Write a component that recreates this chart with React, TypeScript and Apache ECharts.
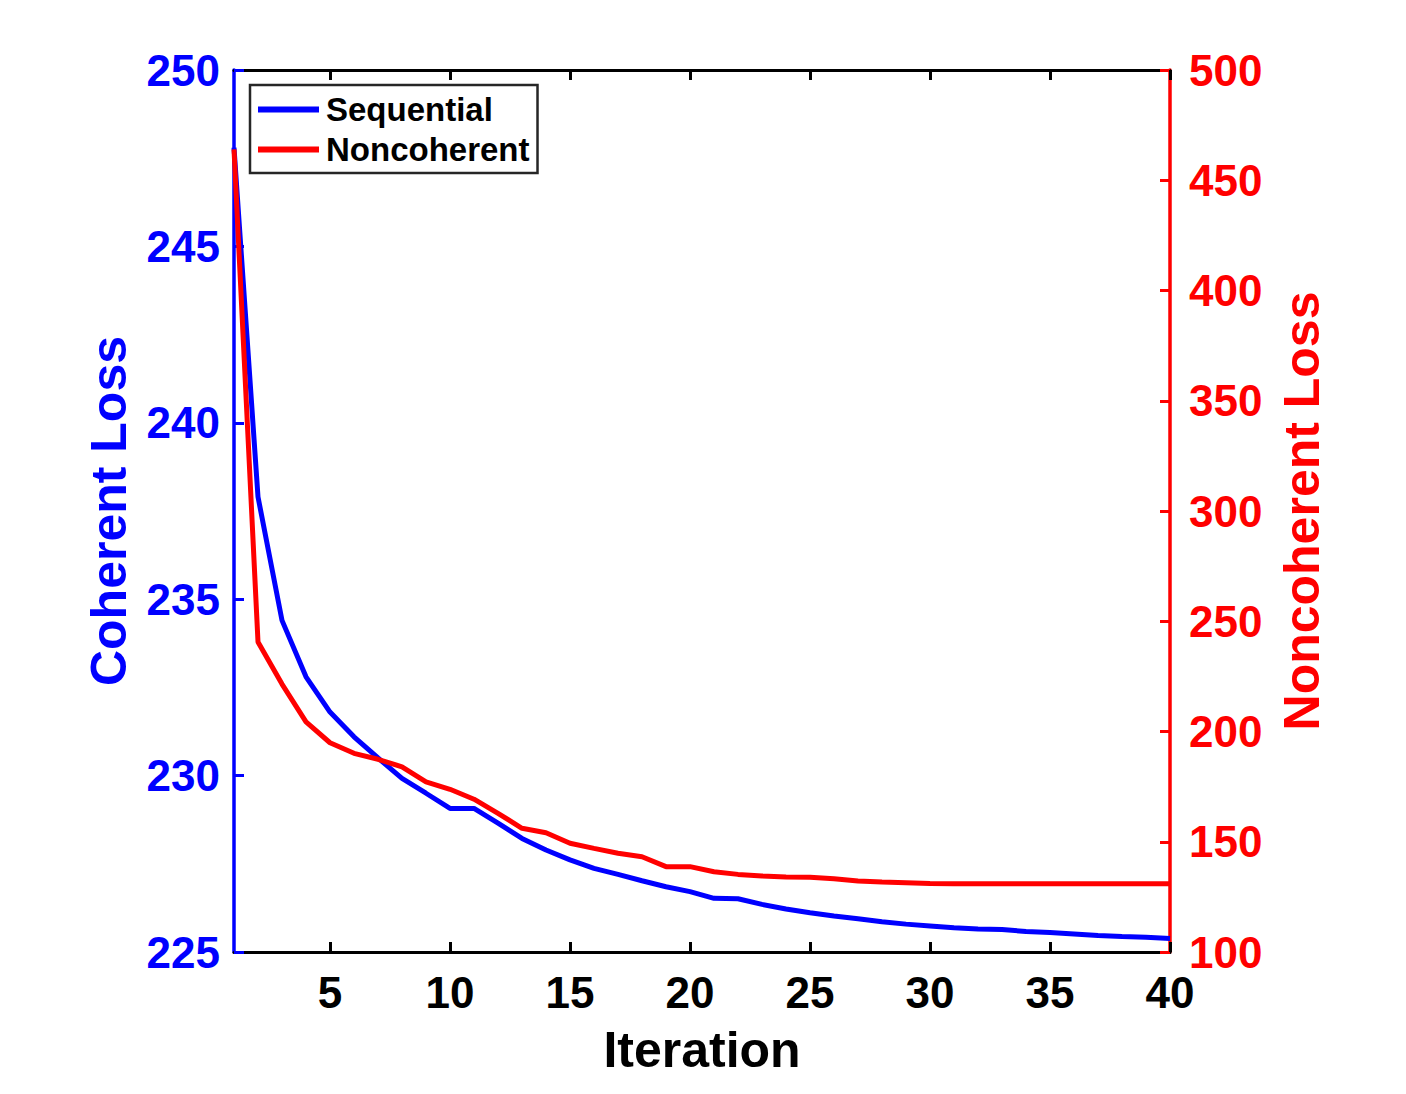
import React, { useEffect, useRef } from "react";
import * as echarts from "echarts";

const iterations = Array.from({ length: 40 }, (_, i) => i + 1);
const coherentLoss = [
  247.8, 237.9, 234.4, 232.8, 231.8, 231.1, 230.5, 229.92, 229.5, 229.07,
  229.07, 228.65, 228.22, 227.89, 227.61, 227.37, 227.2, 227.02, 226.85, 226.71,
  226.52, 226.51, 226.35, 226.22, 226.11, 226.02, 225.94, 225.86, 225.79, 225.74,
  225.69, 225.65, 225.64, 225.58, 225.55, 225.51, 225.47, 225.44, 225.42, 225.38,
];
const noncoherentLoss = [
  464.0, 240.6, 221.5, 204.4, 194.9, 190.1, 187.4, 184.0, 177.2, 173.8,
  169.3, 162.9, 156.1, 154.1, 149.3, 147.0, 144.8, 143.2, 138.7, 138.7,
  136.4, 135.2, 134.5, 134.0, 133.9, 133.2, 132.2, 131.7, 131.4, 131.1,
  131.0, 131.0, 131.0, 131.0, 131.0, 131.0, 131.0, 131.0, 131.0, 131.0,
];
const xTicks = [5, 10, 15, 20, 25, 30, 35, 40];
const seriesNames = ["Sequential", "Noncoherent"];

const FONT = "'Liberation Sans', Arial, Helvetica, sans-serif";
const BLUE = "#0000ff";
const RED = "#ff0000";

export default function App() {
  const ref = useRef<HTMLDivElement>(null);
  useEffect(() => {
    if (!ref.current) return;
    const chart = echarts.init(ref.current, null, { renderer: "svg" });
    const tickLabel = (color: string) => ({
      color,
      fontFamily: FONT,
      fontWeight: "bold",
      fontSize: 44,
    });
    const nameStyle = (color: string) => ({
      color,
      fontFamily: FONT,
      fontWeight: "bold",
      fontSize: 50,
    });
    chart.setOption({
      animation: false,
      backgroundColor: "#ffffff",
      grid: { left: 234, right: 236, top: 70, bottom: 142, containLabel: false },
      legend: {
        orient: "vertical",
        left: 250,
        top: 85,
        data: seriesNames,
        icon: "rect",
        itemWidth: 61,
        itemHeight: 6,
        itemGap: 7,
        padding: [8, 8, 7, 8],
        borderColor: "#262626",
        borderWidth: 2.5,
        backgroundColor: "#ffffff",
        textStyle: {
          color: "#000000",
          fontFamily: FONT,
          fontWeight: "bold",
          fontSize: 33,
          padding: [0, 0, 0, 2],
        },
      },
      xAxis: [
        {
          type: "value",
          min: 1,
          max: 40,
          position: "bottom",
          name: "Iteration",
          nameLocation: "middle",
          nameGap: 73,
          nameTextStyle: nameStyle("#000000"),
          axisLine: { show: true, onZero: false, lineStyle: { color: "#000000", width: 3 } },
          axisTick: { show: true, inside: true, length: 10, customValues: xTicks, lineStyle: { color: "#000000", width: 3 } },
          axisLabel: { ...tickLabel("#000000"), margin: 18, customValues: xTicks },
          splitLine: { show: false },
        },
        {
          type: "value",
          min: 1,
          max: 40,
          position: "top",
          axisLine: { show: true, onZero: false, lineStyle: { color: "#000000", width: 3 } },
          axisTick: { show: true, inside: true, length: 10, customValues: xTicks, lineStyle: { color: "#000000", width: 3 } },
          axisLabel: { show: false },
          splitLine: { show: false },
        },
      ],
      yAxis: [
        {
          type: "value",
          min: 225,
          max: 250,
          interval: 5,
          position: "left",
          name: "Coherent Loss",
          nameLocation: "middle",
          nameGap: 100,
          nameTextStyle: nameStyle(BLUE),
          axisLine: { show: true, onZero: false, lineStyle: { color: BLUE, width: 3.5 } },
          axisTick: { show: true, inside: true, length: 10, lineStyle: { color: BLUE, width: 3 } },
          axisLabel: { ...tickLabel(BLUE), margin: 14 },
          splitLine: { show: false },
        },
        {
          type: "value",
          min: 100,
          max: 500,
          interval: 50,
          position: "right",
          name: "Noncoherent Loss",
          nameLocation: "middle",
          nameGap: 107,
          nameTextStyle: nameStyle(RED),
          axisLine: { show: true, onZero: false, lineStyle: { color: RED, width: 3.5 } },
          axisTick: { show: true, inside: true, length: 10, lineStyle: { color: RED, width: 3 } },
          axisLabel: { ...tickLabel(RED), margin: 19 },
          splitLine: { show: false },
        },
      ],
      series: [
        {
          name: seriesNames[0],
          type: "line",
          xAxisIndex: 0,
          yAxisIndex: 0,
          data: iterations.map((x, i) => [x, coherentLoss[i]]),
          showSymbol: false,
          symbol: "none",
          lineStyle: { color: BLUE, width: 5 },
          itemStyle: { color: BLUE },
          z: 3,
        },
        {
          name: seriesNames[1],
          type: "line",
          xAxisIndex: 0,
          yAxisIndex: 1,
          data: iterations.map((x, i) => [x, noncoherentLoss[i]]),
          showSymbol: false,
          symbol: "none",
          lineStyle: { color: RED, width: 5 },
          itemStyle: { color: RED },
          z: 3,
        },
      ],
    });
    return () => chart.dispose();
  }, []);
  return (
    <div
      ref={ref}
      style={{ position: "absolute", left: 0, top: 0, width: 1406, height: 1094, background: "#fff" }}
    />
  );
}
